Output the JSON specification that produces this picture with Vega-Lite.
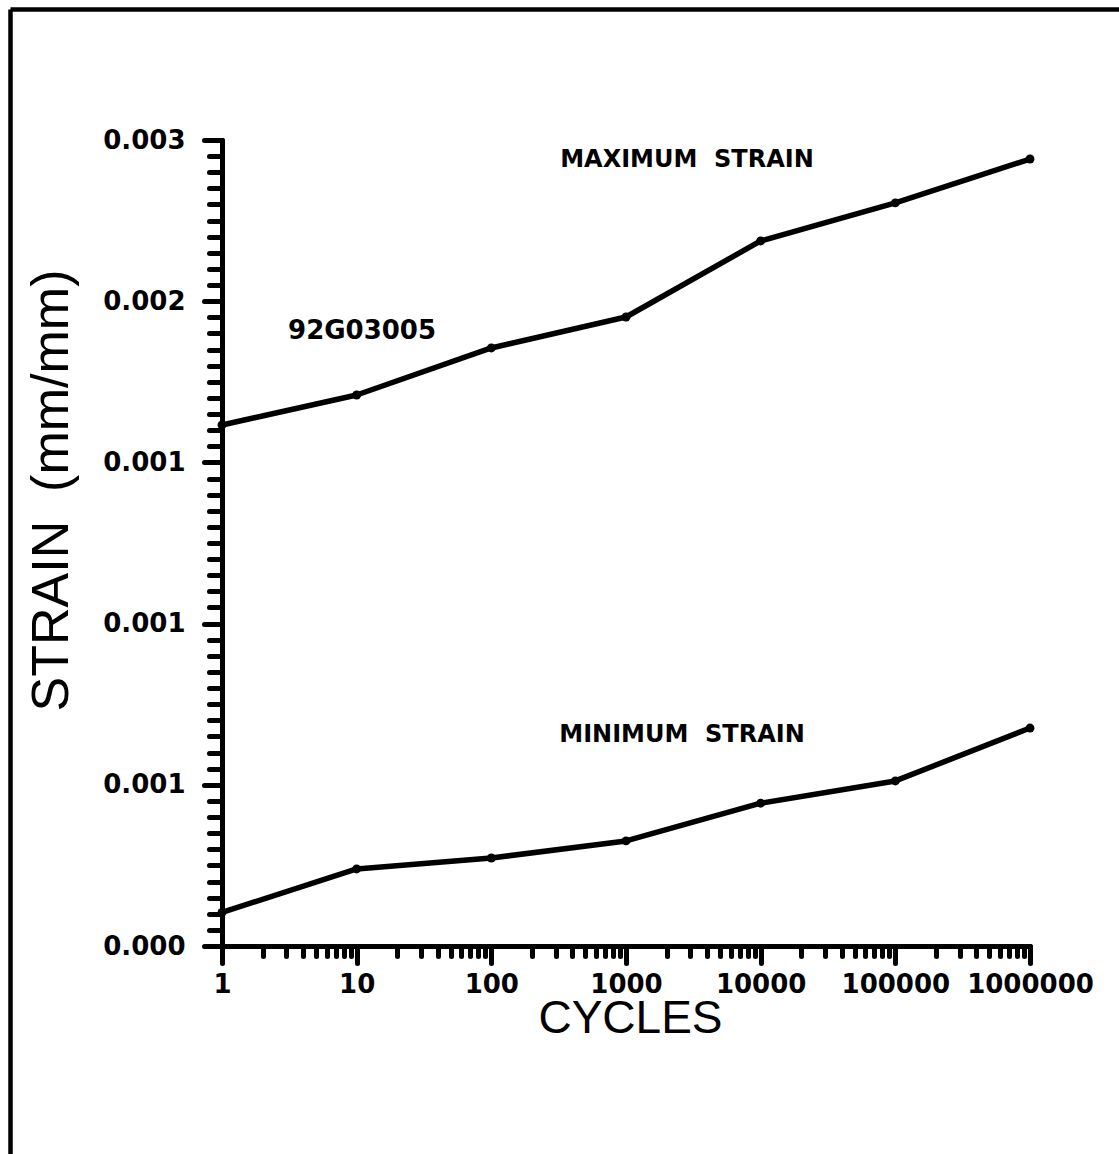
{
  "$schema": "https://vega.github.io/schema/vega-lite/v6.json",
  "autosize": "none",
  "width": 808,
  "height": 806,
  "padding": {"left": 222, "top": 140, "right": 89, "bottom": 208},
  "background": "white",
  "config": {
    "view": {"stroke": null},
    "axis": {
      "domainColor": "black",
      "tickColor": "black",
      "labelColor": "black",
      "titleColor": "black",
      "domainWidth": 5,
      "tickWidth": 5,
      "tickCap": "round",
      "domainCap": "round",
      "grid": false,
      "labelOverlap": false,
      "labelFlush": false,
      "labelBound": false
    }
  },
  "datasets": {
    "strain": [
      {"cycles": 1, "strain": 0.001616, "series": "max"},
      {"cycles": 10, "strain": 0.001709, "series": "max"},
      {"cycles": 100, "strain": 0.001855, "series": "max"},
      {"cycles": 1000, "strain": 0.001951, "series": "max"},
      {"cycles": 10000, "strain": 0.002187, "series": "max"},
      {"cycles": 100000, "strain": 0.002305, "series": "max"},
      {"cycles": 1000000, "strain": 0.002441, "series": "max"},
      {"cycles": 1, "strain": 0.000104, "series": "min"},
      {"cycles": 10, "strain": 0.000239, "series": "min"},
      {"cycles": 100, "strain": 0.000273, "series": "min"},
      {"cycles": 1000, "strain": 0.000326, "series": "min"},
      {"cycles": 10000, "strain": 0.000443, "series": "min"},
      {"cycles": 100000, "strain": 0.000512, "series": "min"},
      {"cycles": 1000000, "strain": 0.000676, "series": "min"}
    ],
    "notes": [
      {"cycles": 2838, "strain": 0.002438, "text": "MAXIMUM\u00a0\u00a0STRAIN", "size": "small"},
      {"cycles": 2606, "strain": 0.000654, "text": "MINIMUM\u00a0\u00a0STRAIN", "size": "small"},
      {"cycles": 10.96, "strain": 0.001908, "text": "92G03005", "size": "large"}
    ]
  },
  "resolve": {"axis": {"x": "independent", "y": "independent"}},
  "layer": [
    {
      "data": {"name": "strain"},
      "mark": {"type": "line", "color": "black", "strokeWidth": 5.5, "strokeCap": "round", "strokeJoin": "round"},
      "encoding": {
        "x": {
          "field": "cycles", "type": "quantitative",
          "scale": {"type": "log", "domain": [1, 1000000], "nice": false},
          "axis": {
            "orient": "bottom",
            "title": "CYCLES",
            "values": [1, 10, 100, 1000, 10000, 100000, 1000000],
            "format": "d",
            "tickSize": 17,
            "labelPadding": 8,
            "labelFont": "DejaVu Sans",
            "labelFontWeight": "bold",
            "labelFontSize": 26,
            "labelBaseline": "top",
            "titleFont": "Liberation Sans",
            "titleFontWeight": "normal",
            "titleFontSize": 46,
            "titleBaseline": "alphabetic",
            "titleY": 86,
            "titleX": 408
          }
        },
        "y": {
          "field": "strain", "type": "quantitative",
          "scale": {"domain": [0, 0.0025], "nice": false, "zero": false},
          "axis": {
            "orient": "left",
            "title": "STRAIN\u00a0\u00a0(mm/mm)",
            "values": [0, 0.0005, 0.001, 0.0015, 0.002, 0.0025],
            "labelExpr": "datum.value < 0.0002 ? '0.000' : datum.value < 0.0017 ? '0.001' : datum.value < 0.0022 ? '0.002' : '0.003'",
            "tickSize": 18,
            "labelPadding": 19,
            "labelFont": "DejaVu Sans",
            "labelFontWeight": "bold",
            "labelFontSize": 26,
            "titleFont": "Liberation Sans",
            "titleFontWeight": "normal",
            "titleFontSize": 52,
            "titleAngle": 270,
            "titleAlign": "center",
            "titleBaseline": "middle",
            "titleX": -171,
            "titleY": 350
          }
        },
        "detail": {"field": "series"}
      }
    },
    {
      "data": {"name": "strain"},
      "mark": {"type": "point", "filled": true, "color": "black", "opacity": 1, "size": 80, "shape": "circle"},
      "encoding": {
        "x": {
          "field": "cycles", "type": "quantitative",
          "axis": {
            "orient": "bottom",
            "title": null,
            "labels": false,
            "domain": false,
            "tickSize": 10,
            "values": [2, 3, 4, 5, 6, 7, 8, 9, 20, 30, 40, 50, 60, 70, 80, 90, 200, 300, 400, 500, 600, 700, 800, 900, 2000, 3000, 4000, 5000, 6000, 7000, 8000, 9000, 20000, 30000, 40000, 50000, 60000, 70000, 80000, 90000, 200000, 300000, 400000, 500000, 600000, 700000, 800000, 900000]
          }
        },
        "y": {
          "field": "strain", "type": "quantitative",
          "axis": {
            "orient": "left",
            "title": null,
            "labels": false,
            "domain": false,
            "tickSize": 13,
            "values": [0.00005, 0.0001, 0.00015, 0.0002, 0.00025, 0.0003, 0.00035, 0.0004, 0.00045, 0.00055, 0.0006, 0.00065, 0.0007, 0.00075, 0.0008, 0.00085, 0.0009, 0.00095, 0.00105, 0.0011, 0.00115, 0.0012, 0.00125, 0.0013, 0.00135, 0.0014, 0.00145, 0.00155, 0.0016, 0.00165, 0.0017, 0.00175, 0.0018, 0.00185, 0.0019, 0.00195, 0.00205, 0.0021, 0.00215, 0.0022, 0.00225, 0.0023, 0.00235, 0.0024, 0.00245]
          }
        }
      }
    },
    {
      "data": {"name": "notes"},
      "transform": [{"filter": "datum.size == 'small'"}],
      "mark": {"type": "text", "font": "DejaVu Sans", "fontWeight": "bold", "fontSize": 24, "color": "black", "align": "center", "baseline": "middle"},
      "encoding": {
        "x": {"field": "cycles", "type": "quantitative", "axis": null},
        "y": {"field": "strain", "type": "quantitative", "axis": null},
        "text": {"field": "text"}
      }
    },
    {
      "data": {"name": "notes"},
      "transform": [{"filter": "datum.size == 'large'"}],
      "mark": {"type": "text", "font": "DejaVu Sans", "fontWeight": "bold", "fontSize": 26, "color": "black", "align": "center", "baseline": "middle"},
      "encoding": {
        "x": {"field": "cycles", "type": "quantitative", "axis": null},
        "y": {"field": "strain", "type": "quantitative", "axis": null},
        "text": {"field": "text"}
      }
    },
    {
      "data": {"values": [{}]},
      "mark": {"type": "rule", "color": "black", "strokeWidth": 4.5, "clip": false},
      "encoding": {
        "x": {"datum": 0.02688, "type": "quantitative", "axis": null},
        "y": {"datum": 0.0029048, "type": "quantitative", "axis": null},
        "y2": {"datum": -0.0007}
      }
    },
    {
      "data": {"values": [{}]},
      "mark": {"type": "rule", "color": "black", "strokeWidth": 4.5, "clip": false},
      "encoding": {
        "x": {"datum": 0.02688, "type": "quantitative", "axis": null},
        "x2": {"datum": 10000000},
        "y": {"datum": 0.0029048, "type": "quantitative", "axis": null}
      }
    }
  ]
}
